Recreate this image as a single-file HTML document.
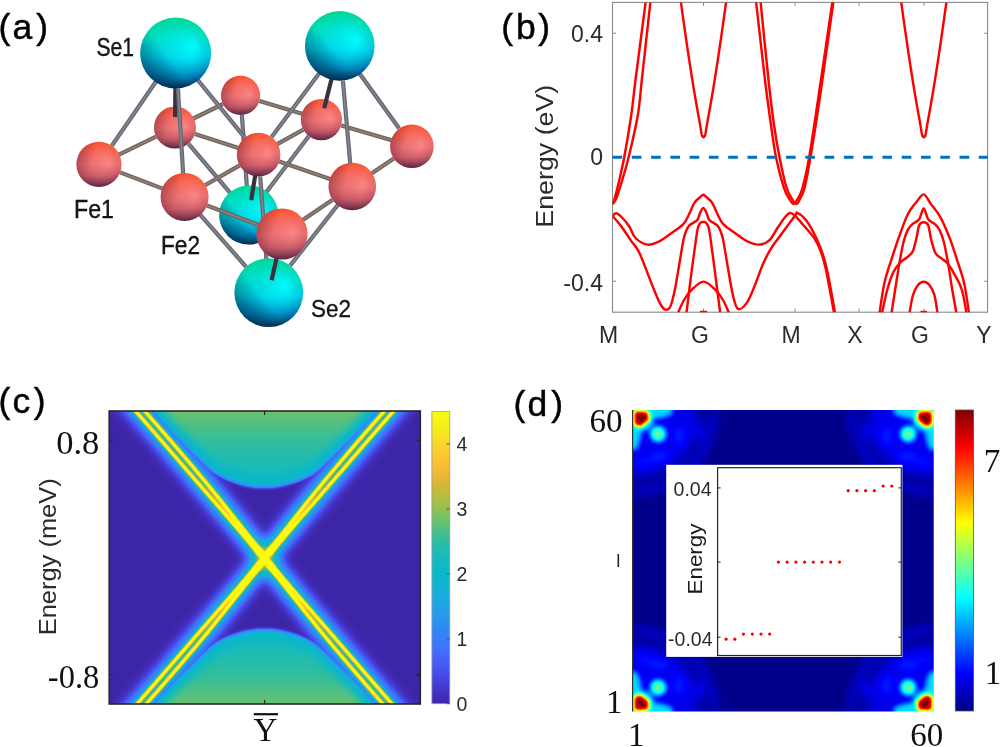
<!DOCTYPE html>
<html><head><meta charset="utf-8"><style>html,body{margin:0;padding:0;background:#fff;width:1000px;height:747px;overflow:hidden}svg{display:block}</style></head>
<body><svg width="1000" height="747" viewBox="0 0 1000 747">
<rect width="1000" height="747" fill="#fff"/>
<defs>
<linearGradient id="feV" x1="0" y1="0" x2="0" y2="1">
<stop offset="0" stop-color="#ff5228"/><stop offset="0.25" stop-color="#f56450"/><stop offset="0.5" stop-color="#e46c6c"/><stop offset="0.75" stop-color="#b8505e"/><stop offset="1" stop-color="#552244"/></linearGradient>
<radialGradient id="feH" cx="0.5" cy="0.5" r="0.5" fx="0.74" fy="0.46">
<stop offset="0" stop-color="#ff8a8a" stop-opacity="0.85"/><stop offset="0.55" stop-color="#f87c80" stop-opacity="0.35"/><stop offset="1" stop-color="#f87c80" stop-opacity="0"/></radialGradient>
<linearGradient id="feS" x1="0" y1="0" x2="1" y2="0.3">
<stop offset="0" stop-color="#701830" stop-opacity="0.55"/><stop offset="0.45" stop-color="#701830" stop-opacity="0"/></linearGradient>
<linearGradient id="seV" x1="0" y1="0" x2="0" y2="1">
<stop offset="0" stop-color="#00d890"/><stop offset="0.3" stop-color="#00dcbc"/><stop offset="0.55" stop-color="#00c4dc"/><stop offset="0.8" stop-color="#0074b0"/><stop offset="1" stop-color="#002a50"/></linearGradient>
<radialGradient id="seH" cx="0.5" cy="0.5" r="0.5" fx="0.76" fy="0.4">
<stop offset="0" stop-color="#00ffff" stop-opacity="0.95"/><stop offset="0.45" stop-color="#00f4ff" stop-opacity="0.45"/><stop offset="1" stop-color="#00e0ff" stop-opacity="0"/></radialGradient>
<linearGradient id="seS" x1="0" y1="0.9" x2="0.7" y2="0.35">
<stop offset="0" stop-color="#00304a" stop-opacity="0.7"/><stop offset="0.6" stop-color="#00304a" stop-opacity="0"/></linearGradient>
</defs><g id="pa">
<circle cx="240.6" cy="95.4" r="19.6" fill="url(#feV)"/>
<circle cx="240.6" cy="95.4" r="19.6" fill="url(#feH)"/>
<circle cx="240.6" cy="95.4" r="19.6" fill="url(#feS)"/>
<line x1="186.3" y1="122.0" x2="223.0" y2="104.0" stroke="#74645a" stroke-width="4.2"/>
<line x1="186.3" y1="122.0" x2="223.0" y2="104.0" stroke="#908a88" stroke-width="1.6" stroke-opacity="0.8"/>
<line x1="309.6" y1="116.1" x2="259.4" y2="101.0" stroke="#74645a" stroke-width="4.2"/>
<line x1="309.6" y1="116.1" x2="259.4" y2="101.0" stroke="#908a88" stroke-width="1.6" stroke-opacity="0.8"/>
<line x1="247.6" y1="197.3" x2="241.9" y2="115.0" stroke="#666670" stroke-width="4.2"/>
<line x1="247.6" y1="197.3" x2="241.9" y2="115.0" stroke="#8a8e98" stroke-width="1.6" stroke-opacity="0.8"/>
<circle cx="175.0" cy="127.5" r="21.0" fill="url(#feV)"/>
<circle cx="175.0" cy="127.5" r="21.0" fill="url(#feH)"/>
<circle cx="175.0" cy="127.5" r="21.0" fill="url(#feS)"/>
<circle cx="321.4" cy="119.6" r="20.6" fill="url(#feV)"/>
<circle cx="321.4" cy="119.6" r="20.6" fill="url(#feH)"/>
<circle cx="321.4" cy="119.6" r="20.6" fill="url(#feS)"/>
<line x1="237.3" y1="201.4" x2="188.5" y2="143.6" stroke="#666670" stroke-width="4.2"/>
<line x1="237.3" y1="201.4" x2="188.5" y2="143.6" stroke="#8a8e98" stroke-width="1.6" stroke-opacity="0.8"/>
<line x1="259.6" y1="200.9" x2="308.9" y2="136.0" stroke="#666670" stroke-width="4.2"/>
<line x1="259.6" y1="200.9" x2="308.9" y2="136.0" stroke="#8a8e98" stroke-width="1.6" stroke-opacity="0.8"/>
<circle cx="248.8" cy="215.0" r="29.6" fill="url(#seV)"/>
<circle cx="248.8" cy="215.0" r="29.6" fill="url(#seH)"/>
<circle cx="248.8" cy="215.0" r="29.6" fill="url(#seS)"/>
<line x1="111.2" y1="158.4" x2="156.1" y2="136.7" stroke="#74645a" stroke-width="4.2"/>
<line x1="111.2" y1="158.4" x2="156.1" y2="136.7" stroke="#908a88" stroke-width="1.6" stroke-opacity="0.8"/>
<line x1="246.2" y1="150.6" x2="195.0" y2="134.0" stroke="#74645a" stroke-width="4.2"/>
<line x1="246.2" y1="150.6" x2="195.0" y2="134.0" stroke="#908a88" stroke-width="1.6" stroke-opacity="0.8"/>
<line x1="399.4" y1="142.6" x2="341.2" y2="125.4" stroke="#74645a" stroke-width="4.2"/>
<line x1="399.4" y1="142.6" x2="341.2" y2="125.4" stroke="#908a88" stroke-width="1.6" stroke-opacity="0.8"/>
<line x1="270.0" y1="148.2" x2="303.4" y2="129.6" stroke="#74645a" stroke-width="4.2"/>
<line x1="270.0" y1="148.2" x2="303.4" y2="129.6" stroke="#908a88" stroke-width="1.6" stroke-opacity="0.8"/>
<line x1="175.5" y1="74.3" x2="175.1" y2="117.0" stroke="#3a3042" stroke-width="4.2" stroke-linecap="butt"/>
<line x1="334.7" y1="66.2" x2="324.2" y2="108.2" stroke="#3a3042" stroke-width="4.2" stroke-linecap="butt"/>
<line x1="256.5" y1="167.5" x2="251.2" y2="200.1" stroke="#3a3042" stroke-width="4.2" stroke-linecap="butt"/>
<circle cx="99.0" cy="164.3" r="22.6" fill="url(#feV)"/>
<circle cx="99.0" cy="164.3" r="22.6" fill="url(#feH)"/>
<circle cx="99.0" cy="164.3" r="22.6" fill="url(#feS)"/>
<circle cx="258.6" cy="154.6" r="21.8" fill="url(#feV)"/>
<circle cx="258.6" cy="154.6" r="21.8" fill="url(#feH)"/>
<circle cx="258.6" cy="154.6" r="21.8" fill="url(#feS)"/>
<circle cx="411.9" cy="146.3" r="21.8" fill="url(#feV)"/>
<circle cx="411.9" cy="146.3" r="21.8" fill="url(#feH)"/>
<circle cx="411.9" cy="146.3" r="21.8" fill="url(#feS)"/>
<line x1="163.6" y1="70.5" x2="111.8" y2="145.7" stroke="#666670" stroke-width="4.2"/>
<line x1="163.6" y1="70.5" x2="111.8" y2="145.7" stroke="#8a8e98" stroke-width="1.6" stroke-opacity="0.8"/>
<line x1="189.2" y1="69.5" x2="244.8" y2="137.7" stroke="#666670" stroke-width="4.2"/>
<line x1="189.2" y1="69.5" x2="244.8" y2="137.7" stroke="#8a8e98" stroke-width="1.6" stroke-opacity="0.8"/>
<line x1="327.3" y1="62.6" x2="271.6" y2="137.1" stroke="#666670" stroke-width="4.2"/>
<line x1="327.3" y1="62.6" x2="271.6" y2="137.1" stroke="#8a8e98" stroke-width="1.6" stroke-opacity="0.8"/>
<line x1="352.0" y1="62.9" x2="399.2" y2="128.6" stroke="#666670" stroke-width="4.2"/>
<line x1="352.0" y1="62.9" x2="399.2" y2="128.6" stroke="#8a8e98" stroke-width="1.6" stroke-opacity="0.8"/>
<circle cx="175.7" cy="53.0" r="35.5" fill="url(#seV)"/>
<circle cx="175.7" cy="53.0" r="35.5" fill="url(#seH)"/>
<circle cx="175.7" cy="53.0" r="35.5" fill="url(#seS)"/>
<circle cx="339.8" cy="45.9" r="34.8" fill="url(#seV)"/>
<circle cx="339.8" cy="45.9" r="34.8" fill="url(#seH)"/>
<circle cx="339.8" cy="45.9" r="34.8" fill="url(#seS)"/>
<line x1="267.3" y1="272.0" x2="260.2" y2="176.3" stroke="#666670" stroke-width="4.2"/>
<line x1="267.3" y1="272.0" x2="260.2" y2="176.3" stroke="#8a8e98" stroke-width="1.6" stroke-opacity="0.8"/>
<line x1="171.1" y1="191.9" x2="120.1" y2="172.4" stroke="#74645a" stroke-width="4.2"/>
<line x1="171.1" y1="191.9" x2="120.1" y2="172.4" stroke="#908a88" stroke-width="1.6" stroke-opacity="0.8"/>
<line x1="338.8" y1="181.9" x2="279.2" y2="161.6" stroke="#74645a" stroke-width="4.2"/>
<line x1="338.8" y1="181.9" x2="279.2" y2="161.6" stroke="#908a88" stroke-width="1.6" stroke-opacity="0.8"/>
<line x1="197.1" y1="189.8" x2="239.7" y2="165.4" stroke="#74645a" stroke-width="4.2"/>
<line x1="197.1" y1="189.8" x2="239.7" y2="165.4" stroke="#908a88" stroke-width="1.6" stroke-opacity="0.8"/>
<line x1="364.1" y1="178.5" x2="393.8" y2="158.5" stroke="#74645a" stroke-width="4.2"/>
<line x1="364.1" y1="178.5" x2="393.8" y2="158.5" stroke="#908a88" stroke-width="1.6" stroke-opacity="0.8"/>
<line x1="183.7" y1="182.6" x2="177.9" y2="88.4" stroke="#666670" stroke-width="4.2"/>
<line x1="183.7" y1="182.6" x2="177.9" y2="88.4" stroke="#8a8e98" stroke-width="1.6" stroke-opacity="0.8"/>
<line x1="351.0" y1="172.3" x2="342.9" y2="80.6" stroke="#666670" stroke-width="4.2"/>
<line x1="351.0" y1="172.3" x2="342.9" y2="80.6" stroke="#8a8e98" stroke-width="1.6" stroke-opacity="0.8"/>
<circle cx="268.8" cy="292.6" r="34.4" fill="url(#seV)"/>
<circle cx="268.8" cy="292.6" r="34.4" fill="url(#seH)"/>
<circle cx="268.8" cy="292.6" r="34.4" fill="url(#seS)"/>
<line x1="194.1" y1="207.8" x2="246.1" y2="266.8" stroke="#666670" stroke-width="4.2"/>
<line x1="194.1" y1="207.8" x2="246.1" y2="266.8" stroke="#8a8e98" stroke-width="1.6" stroke-opacity="0.8"/>
<line x1="343.5" y1="197.7" x2="290.1" y2="265.6" stroke="#666670" stroke-width="4.2"/>
<line x1="343.5" y1="197.7" x2="290.1" y2="265.6" stroke="#8a8e98" stroke-width="1.6" stroke-opacity="0.8"/>
<circle cx="184.6" cy="197.0" r="24.0" fill="url(#feV)"/>
<circle cx="184.6" cy="197.0" r="24.0" fill="url(#feH)"/>
<circle cx="184.6" cy="197.0" r="24.0" fill="url(#feS)"/>
<circle cx="352.3" cy="186.5" r="23.8" fill="url(#feV)"/>
<circle cx="352.3" cy="186.5" r="23.8" fill="url(#feH)"/>
<circle cx="352.3" cy="186.5" r="23.8" fill="url(#feS)"/>
<line x1="278.6" y1="249.0" x2="271.6" y2="280.2" stroke="#3a3042" stroke-width="4.2" stroke-linecap="butt"/>
<line x1="267.6" y1="228.5" x2="207.0" y2="205.5" stroke="#74645a" stroke-width="4.2"/>
<line x1="267.6" y1="228.5" x2="207.0" y2="205.5" stroke="#908a88" stroke-width="1.6" stroke-opacity="0.8"/>
<line x1="294.7" y1="225.4" x2="332.6" y2="199.8" stroke="#74645a" stroke-width="4.2"/>
<line x1="294.7" y1="225.4" x2="332.6" y2="199.8" stroke="#908a88" stroke-width="1.6" stroke-opacity="0.8"/>
<circle cx="282.0" cy="234.0" r="25.6" fill="url(#feV)"/>
<circle cx="282.0" cy="234.0" r="25.6" fill="url(#feH)"/>
<circle cx="282.0" cy="234.0" r="25.6" fill="url(#feS)"/>
</g>
<text x="-1.5" y="39.4" text-anchor="start" style="font-family:&quot;Liberation Sans&quot;,sans-serif;font-size:35.5px" fill="#000" stroke="#000" stroke-width="0.45">(</text><text x="12.5" y="39.4" text-anchor="start" style="font-family:&quot;Liberation Sans&quot;,sans-serif;font-size:35.5px" fill="#000" stroke="#000" stroke-width="0.45">a</text><text x="48.0" y="39.4" text-anchor="end" style="font-family:&quot;Liberation Sans&quot;,sans-serif;font-size:35.5px" fill="#000" stroke="#000" stroke-width="0.45">)</text>
<text x="96.5" y="55.5" text-anchor="start" style="font-family:&quot;Liberation Sans&quot;,sans-serif;font-size:25.0px" fill="#1a1a1a" textLength="37.5" lengthAdjust="spacingAndGlyphs" stroke="#000" stroke-width="0.35">Se1</text>
<text x="74.0" y="217.5" text-anchor="start" style="font-family:&quot;Liberation Sans&quot;,sans-serif;font-size:25.0px" fill="#1a1a1a" textLength="40.0" lengthAdjust="spacingAndGlyphs" stroke="#000" stroke-width="0.35">Fe1</text>
<text x="161.0" y="253.5" text-anchor="start" style="font-family:&quot;Liberation Sans&quot;,sans-serif;font-size:25.0px" fill="#1a1a1a" textLength="39.0" lengthAdjust="spacingAndGlyphs" stroke="#000" stroke-width="0.35">Fe2</text>
<text x="311.0" y="317.0" text-anchor="start" style="font-family:&quot;Liberation Sans&quot;,sans-serif;font-size:24.5px" fill="#1a1a1a" textLength="40.0" lengthAdjust="spacingAndGlyphs" stroke="#000" stroke-width="0.35">Se2</text>
<defs><clipPath id="cb"><rect x="612.5" y="2.4" width="375.1" height="309.8"/></clipPath></defs>
<text x="501.3" y="38.8" text-anchor="start" style="font-family:&quot;Liberation Sans&quot;,sans-serif;font-size:35.5px" fill="#000" stroke="#000" stroke-width="0.45">(</text><text x="516.0" y="38.8" text-anchor="start" style="font-family:&quot;Liberation Sans&quot;,sans-serif;font-size:35.5px" fill="#000" stroke="#000" stroke-width="0.45">b</text><text x="550.0" y="38.8" text-anchor="end" style="font-family:&quot;Liberation Sans&quot;,sans-serif;font-size:35.5px" fill="#000" stroke="#000" stroke-width="0.45">)</text>
<rect x="612.5" y="2.4" width="375.1" height="309.8" fill="none" stroke="#8a8a8a" stroke-width="1.1"/>
<line x1="612.5" y1="33.2" x2="616.0" y2="33.2" stroke="#8a8a8a" stroke-width="1"/>
<line x1="984.1" y1="33.2" x2="987.6" y2="33.2" stroke="#8a8a8a" stroke-width="1"/>
<line x1="612.5" y1="157.2" x2="616.0" y2="157.2" stroke="#8a8a8a" stroke-width="1"/>
<line x1="984.1" y1="157.2" x2="987.6" y2="157.2" stroke="#8a8a8a" stroke-width="1"/>
<line x1="612.5" y1="281.2" x2="616.0" y2="281.2" stroke="#8a8a8a" stroke-width="1"/>
<line x1="984.1" y1="281.2" x2="987.6" y2="281.2" stroke="#8a8a8a" stroke-width="1"/>
<line x1="703.5" y1="2.4" x2="703.5" y2="5.9" stroke="#8a8a8a" stroke-width="1"/>
<line x1="703.5" y1="308.7" x2="703.5" y2="312.2" stroke="#8a8a8a" stroke-width="1"/>
<line x1="795.0" y1="2.4" x2="795.0" y2="5.9" stroke="#8a8a8a" stroke-width="1"/>
<line x1="795.0" y1="308.7" x2="795.0" y2="312.2" stroke="#8a8a8a" stroke-width="1"/>
<line x1="859.0" y1="2.4" x2="859.0" y2="5.9" stroke="#8a8a8a" stroke-width="1"/>
<line x1="859.0" y1="308.7" x2="859.0" y2="312.2" stroke="#8a8a8a" stroke-width="1"/>
<line x1="924.0" y1="2.4" x2="924.0" y2="5.9" stroke="#8a8a8a" stroke-width="1"/>
<line x1="924.0" y1="308.7" x2="924.0" y2="312.2" stroke="#8a8a8a" stroke-width="1"/>
<text x="603.0" y="42.0" text-anchor="end" style="font-family:&quot;Liberation Sans&quot;,sans-serif;font-size:23.0px" fill="#2b2b2b" >0.4</text>
<text x="603.0" y="165.0" text-anchor="end" style="font-family:&quot;Liberation Sans&quot;,sans-serif;font-size:23.0px" fill="#2b2b2b" >0</text>
<text x="603.0" y="291.0" text-anchor="end" style="font-family:&quot;Liberation Sans&quot;,sans-serif;font-size:23.0px" fill="#2b2b2b" >-0.4</text>
<text x="608.5" y="342.5" text-anchor="middle" style="font-family:&quot;Liberation Sans&quot;,sans-serif;font-size:23.0px" fill="#2b2b2b" >M</text>
<text x="700.0" y="342.5" text-anchor="middle" style="font-family:&quot;Liberation Sans&quot;,sans-serif;font-size:23.0px" fill="#2b2b2b" >G</text>
<text x="791.0" y="342.5" text-anchor="middle" style="font-family:&quot;Liberation Sans&quot;,sans-serif;font-size:23.0px" fill="#2b2b2b" >M</text>
<text x="855.0" y="342.5" text-anchor="middle" style="font-family:&quot;Liberation Sans&quot;,sans-serif;font-size:23.0px" fill="#2b2b2b" >X</text>
<text x="920.0" y="342.5" text-anchor="middle" style="font-family:&quot;Liberation Sans&quot;,sans-serif;font-size:23.0px" fill="#2b2b2b" >G</text>
<text x="984.0" y="342.5" text-anchor="middle" style="font-family:&quot;Liberation Sans&quot;,sans-serif;font-size:23.0px" fill="#2b2b2b" >Y</text>
<text transform="translate(553,156.2) rotate(-90)" text-anchor="middle" textLength="143" lengthAdjust="spacingAndGlyphs" style="font-family:&quot;Liberation Sans&quot;,sans-serif;font-size:23px" fill="#2b2b2b">Energy (eV)</text>
<g clip-path="url(#cb)" fill="none" stroke="#ff0000" stroke-width="2.45" stroke-linejoin="round">
<path d="M612.50,204.00 C612.83,203.17 613.53,202.28 614.50,199.00 C615.47,195.72 616.67,191.30 618.30,184.30 C619.93,177.30 622.13,168.58 624.30,157.00 C626.47,145.42 629.43,127.63 631.30,114.80 C633.17,101.97 633.08,98.97 635.50,80.00 C637.92,61.03 644.08,14.17 645.80,1.00"/>
<path d="M612.50,204.00 C613.08,203.17 614.60,202.28 616.00,199.00 C617.40,195.72 618.78,191.30 620.90,184.30 C623.02,177.30 625.87,168.58 628.70,157.00 C631.53,145.42 635.72,127.63 637.90,114.80 C640.08,101.97 639.70,98.97 641.80,80.00 C643.90,61.03 649.05,14.17 650.50,1.00"/>
<path d="M680.71,0.70 L681.63,7.44 L682.54,14.01 L683.44,20.41 L684.32,26.63 L685.19,32.69 L686.04,38.58 L686.87,44.29 L687.69,49.84 L688.49,55.21 L689.28,60.42 L690.05,65.45 L690.80,70.31 L691.54,75.01 L692.25,79.53 L692.95,83.88 L693.64,88.06 L694.30,92.07 L694.95,95.91 L695.58,99.58 L696.18,103.07 L696.77,106.40 L697.33,109.56 L697.87,112.54 L698.39,115.36 L698.87,118.00 L699.32,120.48 L699.73,122.78 L700.10,124.91 L700.42,126.88 L700.70,128.67 L700.95,130.29 L701.18,131.74 L701.40,133.02 L701.62,134.13 L701.87,135.07 L702.15,135.83 L702.45,136.43 L702.79,136.86 L703.14,137.11 L703.50,137.20 L703.86,137.11 L704.21,136.86 L704.55,136.43 L704.85,135.83 L705.13,135.07 L705.38,134.13 L705.60,133.02 L705.82,131.74 L706.05,130.29 L706.30,128.67 L706.58,126.88 L706.90,124.91 L707.27,122.78 L707.68,120.48 L708.13,118.00 L708.61,115.36 L709.13,112.54 L709.67,109.56 L710.23,106.40 L710.82,103.07 L711.42,99.58 L712.05,95.91 L712.70,92.07 L713.36,88.06 L714.05,83.88 L714.75,79.53 L715.46,75.01 L716.20,70.31 L716.95,65.45 L717.72,60.42 L718.51,55.21 L719.31,49.84 L720.13,44.29 L720.96,38.58 L721.81,32.69 L722.68,26.63 L723.56,20.41 L724.46,14.01 L725.37,7.44 L726.29,0.70"/>
<path d="M901.01,0.70 L901.93,7.44 L902.84,14.01 L903.74,20.41 L904.62,26.63 L905.49,32.69 L906.34,38.58 L907.17,44.29 L907.99,49.84 L908.79,55.21 L909.58,60.42 L910.35,65.45 L911.10,70.31 L911.84,75.01 L912.55,79.53 L913.25,83.88 L913.94,88.06 L914.60,92.07 L915.25,95.91 L915.88,99.58 L916.48,103.07 L917.07,106.40 L917.63,109.56 L918.17,112.54 L918.69,115.36 L919.17,118.00 L919.62,120.48 L920.03,122.78 L920.40,124.91 L920.72,126.88 L921.00,128.67 L921.25,130.29 L921.48,131.74 L921.70,133.02 L921.92,134.13 L922.17,135.07 L922.45,135.83 L922.75,136.43 L923.09,136.86 L923.44,137.11 L923.80,137.20 L924.16,137.11 L924.51,136.86 L924.85,136.43 L925.15,135.83 L925.43,135.07 L925.68,134.13 L925.90,133.02 L926.12,131.74 L926.35,130.29 L926.60,128.67 L926.88,126.88 L927.20,124.91 L927.57,122.78 L927.98,120.48 L928.43,118.00 L928.91,115.36 L929.43,112.54 L929.97,109.56 L930.53,106.40 L931.12,103.07 L931.72,99.58 L932.35,95.91 L933.00,92.07 L933.66,88.06 L934.35,83.88 L935.05,79.53 L935.76,75.01 L936.50,70.31 L937.25,65.45 L938.02,60.42 L938.81,55.21 L939.61,49.84 L940.43,44.29 L941.26,38.58 L942.11,32.69 L942.98,26.63 L943.86,20.41 L944.76,14.01 L945.67,7.44 L946.59,0.70"/>
<path d="M756.00,1.00 C757.50,14.17 762.50,59.33 765.00,80.00 C767.50,100.67 769.17,112.17 771.00,125.00 C772.83,137.83 773.83,146.50 776.00,157.00 C778.17,167.50 781.67,180.83 784.00,188.00 C786.33,195.17 788.42,197.33 790.00,200.00 C791.58,202.67 792.33,204.00 793.50,204.00 C794.67,204.00 795.50,202.67 797.00,200.00 C798.50,197.33 800.47,195.17 802.50,188.00 C804.53,180.83 806.62,171.67 809.20,157.00 C811.78,142.33 814.12,126.00 818.00,100.00 C821.88,74.00 830.08,17.50 832.50,1.00"/>
<path d="M760.50,1.00 C761.83,14.17 766.25,59.33 768.50,80.00 C770.75,100.67 772.17,112.17 774.00,125.00 C775.83,137.83 777.50,146.83 779.50,157.00 C781.50,167.17 783.92,179.00 786.00,186.00 C788.08,193.00 790.25,196.00 792.00,199.00 C793.75,202.00 795.25,203.83 796.50,204.00 C797.75,204.17 798.17,202.67 799.50,200.00 C800.83,197.33 802.67,195.17 804.50,188.00 C806.33,180.83 808.00,171.67 810.50,157.00 C813.00,142.33 815.67,126.00 819.50,100.00 C823.33,74.00 831.17,17.50 833.50,1.00"/>
<path d="M612.50,216.00 C613.12,215.55 614.62,213.05 616.20,213.30 C617.78,213.55 619.87,215.38 622.00,217.50 C624.13,219.62 626.75,222.58 629.00,226.00 C631.25,229.42 632.40,234.90 635.50,238.00 C638.60,241.10 643.68,244.02 647.60,244.60 C651.52,245.18 655.27,243.23 659.00,241.50 C662.73,239.77 665.98,237.05 670.00,234.20 C674.02,231.35 679.98,227.60 683.10,224.40 C686.22,221.20 686.82,218.60 688.70,215.00 C690.58,211.40 692.52,205.77 694.40,202.80 C696.28,199.83 698.52,198.53 700.00,197.20 C701.48,195.87 702.20,194.80 703.30,194.80 C704.40,194.80 705.12,195.87 706.60,197.20 C708.08,198.53 710.32,199.83 712.20,202.80 C714.08,205.77 716.02,211.40 717.90,215.00 C719.78,218.60 720.38,221.20 723.50,224.40 C726.62,227.60 732.58,231.35 736.60,234.20 C740.62,237.05 743.87,239.77 747.60,241.50 C751.33,243.23 755.38,244.80 759.00,244.60 C762.62,244.40 766.17,243.15 769.30,240.30 C772.43,237.45 775.13,231.42 777.80,227.50 C780.47,223.58 783.25,219.22 785.30,216.80 C787.35,214.38 788.48,213.18 790.10,213.00 C791.72,212.82 792.77,213.65 795.00,215.70 C797.23,217.75 800.30,221.55 803.50,225.30 C806.70,229.05 811.28,233.75 814.20,238.20 C817.12,242.65 819.03,246.70 821.00,252.00 C822.97,257.30 823.83,259.92 826.00,270.00 C828.17,280.08 832.67,305.42 834.00,312.50"/>
<path d="M612.50,216.00 C613.92,217.67 617.83,221.77 621.00,226.00 C624.17,230.23 628.33,236.68 631.50,241.40 C634.67,246.12 635.33,244.13 640.00,254.30 C644.67,264.47 654.73,293.30 659.50,302.40 C664.27,311.50 666.22,310.20 668.60,308.90 C670.98,307.60 672.07,301.75 673.80,294.60 C675.53,287.45 677.30,275.52 679.00,266.00 C680.70,256.48 682.38,244.13 684.00,237.50 C685.62,230.87 686.50,229.10 688.70,226.20 C690.90,223.30 695.32,222.28 697.20,220.10 C699.08,217.92 698.98,215.12 700.00,213.10 C701.02,211.08 702.20,208.00 703.30,208.00 C704.40,208.00 705.58,211.08 706.60,213.10 C707.62,215.12 707.52,217.92 709.40,220.10 C711.28,222.28 715.70,223.30 717.90,226.20 C720.10,229.10 720.98,230.87 722.60,237.50 C724.22,244.13 725.90,256.48 727.60,266.00 C729.30,275.52 731.07,287.45 732.80,294.60 C734.53,301.75 735.62,307.60 738.00,308.90 C740.38,310.20 744.27,306.38 747.10,302.40 C749.93,298.42 752.35,291.40 755.00,285.00 C757.65,278.60 760.27,270.20 763.00,264.00 C765.73,257.80 768.57,252.47 771.40,247.80 C774.23,243.13 776.07,241.35 780.00,236.00 C783.93,230.65 792.07,219.53 795.00,215.70 C797.93,211.87 795.65,212.12 797.60,213.00 C799.55,213.88 803.57,216.80 806.70,221.00 C809.83,225.20 813.68,232.53 816.40,238.20 C819.12,243.87 821.15,249.37 823.00,255.00 C824.85,260.63 825.50,262.42 827.50,272.00 C829.50,281.58 833.75,305.75 835.00,312.50"/>
<path d="M686.50,313.00 C687.17,307.50 688.93,292.17 690.50,280.00 C692.07,267.83 694.63,248.80 695.90,240.00 C697.17,231.20 697.27,230.12 698.10,227.20 C698.93,224.28 700.03,223.37 700.90,222.50 C701.77,221.63 702.50,222.00 703.30,222.00 C704.10,222.00 704.83,221.63 705.70,222.50 C706.57,223.37 707.67,224.28 708.50,227.20 C709.33,230.12 709.45,231.20 710.70,240.00 C711.95,248.80 714.42,267.83 716.00,280.00 C717.58,292.17 719.50,307.50 720.20,313.00"/>
<path d="M678.00,313.00 C679.00,310.83 681.67,303.93 684.00,300.00 C686.33,296.07 688.75,292.47 692.00,289.40 C695.25,286.33 699.67,281.60 703.50,281.60 C707.33,281.60 711.75,286.33 715.00,289.40 C718.25,292.47 720.67,296.07 723.00,300.00 C725.33,303.93 728.00,310.83 729.00,313.00"/>
<path d="M879.50,313.00 C880.33,307.93 882.42,291.80 884.50,282.60 C886.58,273.40 889.53,265.55 892.00,257.80 C894.47,250.05 896.68,243.32 899.30,236.10 C901.92,228.88 904.90,220.12 907.70,214.50 C910.50,208.88 913.43,205.75 916.10,202.40 C918.77,199.05 921.28,194.20 923.70,194.40 C926.12,194.60 927.85,199.85 930.60,203.60 C933.35,207.35 936.98,211.07 940.20,216.90 C943.42,222.73 947.08,231.38 949.90,238.60 C952.72,245.82 954.75,252.87 957.10,260.20 C959.45,267.53 962.02,273.80 964.00,282.60 C965.98,291.40 968.17,307.93 969.00,313.00"/>
<path d="M891.50,313.00 C892.10,309.17 894.10,296.38 895.10,290.00 C896.10,283.62 896.70,279.67 897.50,274.70 C898.30,269.73 898.90,265.62 899.90,260.20 C900.90,254.78 902.20,247.22 903.50,242.20 C904.80,237.18 906.20,233.12 907.70,230.10 C909.20,227.08 910.58,225.90 912.50,224.10 C914.42,222.30 917.33,221.92 919.20,219.30 C921.07,216.68 922.20,208.40 923.70,208.40 C925.20,208.40 926.35,216.68 928.20,219.30 C930.05,221.92 932.90,222.30 934.80,224.10 C936.70,225.90 938.08,227.08 939.60,230.10 C941.12,233.12 942.58,237.18 943.90,242.20 C945.22,247.22 946.50,254.78 947.50,260.20 C948.50,265.62 949.10,269.73 949.90,274.70 C950.70,279.67 951.22,283.62 952.30,290.00 C953.38,296.38 955.72,309.17 956.40,313.00"/>
<path d="M882.00,313.00 C882.87,309.17 885.32,296.78 887.20,290.00 C889.08,283.22 891.18,276.85 893.30,272.30 C895.42,267.75 897.70,265.12 899.90,262.70 C902.10,260.28 904.40,259.62 906.50,257.80 C908.60,255.98 910.90,254.80 912.50,251.80 C914.10,248.80 914.98,244.22 916.10,239.80 C917.22,235.38 917.93,228.22 919.20,225.30 C920.47,222.38 922.20,222.30 923.70,222.30 C925.20,222.30 926.95,222.38 928.20,225.30 C929.45,228.22 930.00,235.18 931.20,239.80 C932.40,244.42 933.70,249.90 935.40,253.00 C937.10,256.10 939.28,256.58 941.40,258.40 C943.52,260.22 945.88,261.18 948.10,263.90 C950.32,266.62 952.40,270.35 954.70,274.70 C957.00,279.05 959.93,283.62 961.90,290.00 C963.87,296.38 965.73,309.17 966.50,313.00"/>
<path d="M909.50,313.00 C910.08,310.00 911.58,299.67 913.00,295.00 C914.42,290.33 916.22,287.22 918.00,285.00 C919.78,282.78 921.80,281.70 923.70,281.70 C925.60,281.70 927.62,282.78 929.40,285.00 C931.18,287.22 933.05,290.33 934.40,295.00 C935.75,299.67 936.98,310.00 937.50,313.00"/>
<line x1="700" y1="312" x2="707" y2="312" stroke-width="2.5"/>
<line x1="920.5" y1="312" x2="927" y2="312" stroke-width="2.5"/>
</g>
<line x1="612.5" y1="157.3" x2="987.6" y2="157.3" stroke="#0072bd" stroke-width="3" stroke-dasharray="9.64 9.64"/>
<defs><clipPath id="cc"><rect x="109.2" y="411.0" width="311.1" height="293.0"/></clipPath>
<filter id="cmapP" filterUnits="userSpaceOnUse" x="100" y="400" width="330" height="315" color-interpolation-filters="sRGB"><feComponentTransfer><feFuncR type="table" tableValues="0.2431 0.2706 0.2784 0.2549 0.1804 0.1569 0.0941 0.0314 0.0863 0.1882 0.4118 0.6471 0.8431 0.9882 0.9804 0.9608 0.9765"/><feFuncG type="table" tableValues="0.1490 0.2275 0.3333 0.4471 0.5294 0.6118 0.6824 0.7216 0.7294 0.7451 0.7608 0.7529 0.7137 0.7294 0.8118 0.9255 0.9843"/><feFuncB type="table" tableValues="0.6588 0.8275 0.9451 0.9961 0.9686 0.9216 0.8588 0.7843 0.7451 0.6196 0.4314 0.2745 0.2039 0.2275 0.1725 0.1098 0.0549"/></feComponentTransfer></filter>
<filter id="domeblur" filterUnits="userSpaceOnUse" x="60" y="360" width="420" height="400" color-interpolation-filters="sRGB"><feGaussianBlur stdDeviation="1.60"/></filter>
<filter id="dl0" filterUnits="userSpaceOnUse" x="60" y="360" width="420" height="400" color-interpolation-filters="sRGB"><feGaussianBlur stdDeviation="3.00" result="bb"/><feFlood flood-color="#000" result="fl"/><feComposite in="bb" in2="fl" operator="over"/></filter>
<filter id="dl1" filterUnits="userSpaceOnUse" x="60" y="360" width="420" height="400" color-interpolation-filters="sRGB"><feGaussianBlur stdDeviation="7.00" result="bb"/><feFlood flood-color="#000" result="fl"/><feComposite in="bb" in2="fl" operator="over"/></filter>
<filter id="lineprof" filterUnits="userSpaceOnUse" x="60" y="360" width="420" height="400" color-interpolation-filters="sRGB"><feGaussianBlur in="SourceGraphic" stdDeviation="1.00" result="a"/><feGaussianBlur in="SourceGraphic" stdDeviation="8.00" result="b"/><feGaussianBlur in="SourceGraphic" stdDeviation="20.00" result="c"/><feComposite in="a" in2="b" operator="arithmetic" k1="0" k2="0.750" k3="1.400" k4="0" result="ab"/><feComposite in="ab" in2="c" operator="arithmetic" k1="0" k2="1" k3="0.000" k4="0" result="abc"/><feFlood flood-color="#000" result="fl"/><feComposite in="abc" in2="fl" operator="over"/></filter>
<radialGradient id="domeg" gradientUnits="userSpaceOnUse" cx="264.6" cy="558.4" r="220">
<stop offset="0.000" stop-color="rgb(102,102,102)"/>
<stop offset="0.318" stop-color="rgb(102,102,102)"/>
<stop offset="0.455" stop-color="rgb(117,117,117)"/>
<stop offset="0.682" stop-color="rgb(140,140,140)"/>
<stop offset="1.000" stop-color="rgb(158,158,158)"/>
</radialGradient></defs>
<text x="-1.5" y="413.3" text-anchor="start" style="font-family:&quot;Liberation Sans&quot;,sans-serif;font-size:35.5px" fill="#000" stroke="#000" stroke-width="0.45">(</text><text x="12.6" y="413.3" text-anchor="start" style="font-family:&quot;Liberation Sans&quot;,sans-serif;font-size:35.5px" fill="#000" stroke="#000" stroke-width="0.45">c</text><text x="45.5" y="413.3" text-anchor="end" style="font-family:&quot;Liberation Sans&quot;,sans-serif;font-size:35.5px" fill="#000" stroke="#000" stroke-width="0.45">)</text>
<g clip-path="url(#cc)"><g filter="url(#cmapP)">
<rect x="100" y="400" width="330" height="315" fill="#000"/>
<g filter="url(#domeblur)">
<path d="M69.2,310.4 L72.5,314.3 L75.7,318.2 L79.0,322.2 L82.2,326.1 L85.5,330.0 L88.8,333.9 L92.0,337.8 L95.3,341.7 L98.5,345.6 L101.8,349.5 L105.1,353.4 L108.3,357.4 L111.6,361.3 L114.8,365.2 L118.1,369.1 L121.3,373.0 L124.6,376.9 L127.9,380.9 L131.1,384.8 L134.4,388.7 L137.6,392.6 L140.9,396.5 L144.2,400.4 L147.4,404.2 L150.7,408.1 L153.9,411.9 L157.2,415.8 L160.5,419.6 L163.7,423.3 L167.0,427.0 L170.2,430.6 L173.5,434.0 L176.8,437.2 L180.0,440.4 L183.3,443.6 L186.5,446.8 L189.8,450.1 L193.0,453.4 L196.3,456.7 L199.6,459.8 L202.8,463.0 L206.1,466.2 L209.3,469.2 L212.6,471.9 L215.9,474.2 L219.1,476.1 L222.4,477.8 L225.6,479.3 L228.9,480.6 L232.2,481.8 L235.4,482.9 L238.7,483.9 L241.9,484.9 L245.2,485.7 L248.5,486.4 L251.7,486.9 L255.0,487.4 L258.2,487.7 L261.5,487.8 L264.8,487.9 L268.0,487.8 L271.3,487.7 L274.5,487.3 L277.8,486.9 L281.0,486.3 L284.3,485.6 L287.6,484.8 L290.8,483.8 L294.1,482.8 L297.3,481.7 L300.6,480.5 L303.9,479.1 L307.1,477.6 L310.4,475.9 L313.6,474.0 L316.9,471.7 L320.2,468.9 L323.4,465.9 L326.7,462.7 L329.9,459.5 L333.2,456.4 L336.5,453.1 L339.7,449.8 L343.0,446.5 L346.2,443.3 L349.5,440.1 L352.7,437.0 L356.0,433.7 L359.3,430.3 L362.5,426.7 L365.8,423.0 L369.0,419.2 L372.3,415.4 L375.6,411.6 L378.8,407.7 L382.1,403.9 L385.3,400.0 L388.6,396.2 L391.9,392.3 L395.1,388.4 L398.4,384.4 L401.6,380.5 L404.9,376.6 L408.2,372.7 L411.4,368.7 L414.7,364.8 L417.9,360.9 L421.2,357.0 L424.4,353.1 L427.7,349.2 L431.0,345.3 L434.2,341.3 L437.5,337.4 L440.7,333.5 L444.0,329.6 L447.3,325.7 L450.5,321.8 L453.8,317.9 L457.0,314.0 L460.3,310.1 L460.3,158.4 L69.2,158.4 Z" fill="rgb(84,84,84)"/>
<path d="M69.2,806.4 L72.5,802.5 L75.7,798.6 L79.0,794.6 L82.2,790.7 L85.5,786.8 L88.8,782.9 L92.0,779.0 L95.3,775.1 L98.5,771.2 L101.8,767.3 L105.1,763.4 L108.3,759.4 L111.6,755.5 L114.8,751.6 L118.1,747.7 L121.3,743.8 L124.6,739.9 L127.9,735.9 L131.1,732.0 L134.4,728.1 L137.6,724.2 L140.9,720.3 L144.2,716.4 L147.4,712.6 L150.7,708.7 L153.9,704.9 L157.2,701.0 L160.5,697.2 L163.7,693.5 L167.0,689.8 L170.2,686.2 L173.5,682.8 L176.8,679.6 L180.0,676.4 L183.3,673.2 L186.5,670.0 L189.8,666.7 L193.0,663.4 L196.3,660.1 L199.6,657.0 L202.8,653.8 L206.1,650.6 L209.3,647.6 L212.6,644.9 L215.9,642.6 L219.1,640.7 L222.4,639.0 L225.6,637.5 L228.9,636.2 L232.2,635.0 L235.4,633.9 L238.7,632.9 L241.9,631.9 L245.2,631.1 L248.5,630.4 L251.7,629.9 L255.0,629.4 L258.2,629.1 L261.5,629.0 L264.8,628.9 L268.0,629.0 L271.3,629.1 L274.5,629.5 L277.8,629.9 L281.0,630.5 L284.3,631.2 L287.6,632.0 L290.8,633.0 L294.1,634.0 L297.3,635.1 L300.6,636.3 L303.9,637.7 L307.1,639.2 L310.4,640.9 L313.6,642.8 L316.9,645.1 L320.2,647.9 L323.4,650.9 L326.7,654.1 L329.9,657.3 L333.2,660.4 L336.5,663.7 L339.7,667.0 L343.0,670.3 L346.2,673.5 L349.5,676.7 L352.7,679.8 L356.0,683.1 L359.3,686.5 L362.5,690.1 L365.8,693.8 L369.0,697.6 L372.3,701.4 L375.6,705.2 L378.8,709.1 L382.1,712.9 L385.3,716.8 L388.6,720.6 L391.9,724.5 L395.1,728.4 L398.4,732.4 L401.6,736.3 L404.9,740.2 L408.2,744.1 L411.4,748.1 L414.7,752.0 L417.9,755.9 L421.2,759.8 L424.4,763.7 L427.7,767.6 L431.0,771.5 L434.2,775.5 L437.5,779.4 L440.7,783.3 L444.0,787.2 L447.3,791.1 L450.5,795.0 L453.8,798.9 L457.0,802.8 L460.3,806.7 L460.3,958.4 L69.2,958.4 Z" fill="rgb(84,84,84)"/>
</g>
<clipPath id="domeclip"><path d="M69.2,310.4 L72.5,314.3 L75.7,318.2 L79.0,322.2 L82.2,326.1 L85.5,330.0 L88.8,333.9 L92.0,337.8 L95.3,341.7 L98.5,345.6 L101.8,349.5 L105.1,353.4 L108.3,357.4 L111.6,361.3 L114.8,365.2 L118.1,369.1 L121.3,373.0 L124.6,376.9 L127.9,380.9 L131.1,384.8 L134.4,388.7 L137.6,392.6 L140.9,396.5 L144.2,400.4 L147.4,404.2 L150.7,408.1 L153.9,411.9 L157.2,415.8 L160.5,419.6 L163.7,423.3 L167.0,427.0 L170.2,430.6 L173.5,434.0 L176.8,437.2 L180.0,440.4 L183.3,443.6 L186.5,446.8 L189.8,450.1 L193.0,453.4 L196.3,456.7 L199.6,459.8 L202.8,463.0 L206.1,466.2 L209.3,469.2 L212.6,471.9 L215.9,474.2 L219.1,476.1 L222.4,477.8 L225.6,479.3 L228.9,480.6 L232.2,481.8 L235.4,482.9 L238.7,483.9 L241.9,484.9 L245.2,485.7 L248.5,486.4 L251.7,486.9 L255.0,487.4 L258.2,487.7 L261.5,487.8 L264.8,487.9 L268.0,487.8 L271.3,487.7 L274.5,487.3 L277.8,486.9 L281.0,486.3 L284.3,485.6 L287.6,484.8 L290.8,483.8 L294.1,482.8 L297.3,481.7 L300.6,480.5 L303.9,479.1 L307.1,477.6 L310.4,475.9 L313.6,474.0 L316.9,471.7 L320.2,468.9 L323.4,465.9 L326.7,462.7 L329.9,459.5 L333.2,456.4 L336.5,453.1 L339.7,449.8 L343.0,446.5 L346.2,443.3 L349.5,440.1 L352.7,437.0 L356.0,433.7 L359.3,430.3 L362.5,426.7 L365.8,423.0 L369.0,419.2 L372.3,415.4 L375.6,411.6 L378.8,407.7 L382.1,403.9 L385.3,400.0 L388.6,396.2 L391.9,392.3 L395.1,388.4 L398.4,384.4 L401.6,380.5 L404.9,376.6 L408.2,372.7 L411.4,368.7 L414.7,364.8 L417.9,360.9 L421.2,357.0 L424.4,353.1 L427.7,349.2 L431.0,345.3 L434.2,341.3 L437.5,337.4 L440.7,333.5 L444.0,329.6 L447.3,325.7 L450.5,321.8 L453.8,317.9 L457.0,314.0 L460.3,310.1 L460.3,158.4 L69.2,158.4 Z"/><path d="M69.2,806.4 L72.5,802.5 L75.7,798.6 L79.0,794.6 L82.2,790.7 L85.5,786.8 L88.8,782.9 L92.0,779.0 L95.3,775.1 L98.5,771.2 L101.8,767.3 L105.1,763.4 L108.3,759.4 L111.6,755.5 L114.8,751.6 L118.1,747.7 L121.3,743.8 L124.6,739.9 L127.9,735.9 L131.1,732.0 L134.4,728.1 L137.6,724.2 L140.9,720.3 L144.2,716.4 L147.4,712.6 L150.7,708.7 L153.9,704.9 L157.2,701.0 L160.5,697.2 L163.7,693.5 L167.0,689.8 L170.2,686.2 L173.5,682.8 L176.8,679.6 L180.0,676.4 L183.3,673.2 L186.5,670.0 L189.8,666.7 L193.0,663.4 L196.3,660.1 L199.6,657.0 L202.8,653.8 L206.1,650.6 L209.3,647.6 L212.6,644.9 L215.9,642.6 L219.1,640.7 L222.4,639.0 L225.6,637.5 L228.9,636.2 L232.2,635.0 L235.4,633.9 L238.7,632.9 L241.9,631.9 L245.2,631.1 L248.5,630.4 L251.7,629.9 L255.0,629.4 L258.2,629.1 L261.5,629.0 L264.8,628.9 L268.0,629.0 L271.3,629.1 L274.5,629.5 L277.8,629.9 L281.0,630.5 L284.3,631.2 L287.6,632.0 L290.8,633.0 L294.1,634.0 L297.3,635.1 L300.6,636.3 L303.9,637.7 L307.1,639.2 L310.4,640.9 L313.6,642.8 L316.9,645.1 L320.2,647.9 L323.4,650.9 L326.7,654.1 L329.9,657.3 L333.2,660.4 L336.5,663.7 L339.7,667.0 L343.0,670.3 L346.2,673.5 L349.5,676.7 L352.7,679.8 L356.0,683.1 L359.3,686.5 L362.5,690.1 L365.8,693.8 L369.0,697.6 L372.3,701.4 L375.6,705.2 L378.8,709.1 L382.1,712.9 L385.3,716.8 L388.6,720.6 L391.9,724.5 L395.1,728.4 L398.4,732.4 L401.6,736.3 L404.9,740.2 L408.2,744.1 L411.4,748.1 L414.7,752.0 L417.9,755.9 L421.2,759.8 L424.4,763.7 L427.7,767.6 L431.0,771.5 L434.2,775.5 L437.5,779.4 L440.7,783.3 L444.0,787.2 L447.3,791.1 L450.5,795.0 L453.8,798.9 L457.0,802.8 L460.3,806.7 L460.3,958.4 L69.2,958.4 Z"/></clipPath>
<defs><linearGradient id="dgu" gradientUnits="userSpaceOnUse" x1="0" y1="486.4" x2="0" y2="408.4"><stop offset="0" stop-color="rgb(120,120,120)"/><stop offset="1" stop-color="rgb(161,161,161)"/></linearGradient>
<linearGradient id="dgl" gradientUnits="userSpaceOnUse" x1="0" y1="630.4" x2="0" y2="708.4"><stop offset="0" stop-color="rgb(120,120,120)"/><stop offset="1" stop-color="rgb(161,161,161)"/></linearGradient></defs>
<g clip-path="url(#domeclip)" style="mix-blend-mode:lighten"><g filter="url(#dl0)">
<path d="M69.2,310.4 L72.5,314.3 L75.7,318.2 L79.0,322.2 L82.2,326.1 L85.5,330.0 L88.8,333.9 L92.0,337.8 L95.3,341.7 L98.5,345.6 L101.8,349.5 L105.1,353.4 L108.3,357.4 L111.6,361.3 L114.8,365.2 L118.1,369.1 L121.3,373.0 L124.6,376.9 L127.9,380.9 L131.1,384.8 L134.4,388.7 L137.6,392.6 L140.9,396.5 L144.2,400.4 L147.4,404.2 L150.7,408.1 L153.9,411.9 L157.2,415.8 L160.5,419.6 L163.7,423.3 L167.0,427.0 L170.2,430.6 L173.5,434.0 L176.8,437.2 L180.0,440.4 L183.3,443.6 L186.5,446.8 L189.8,450.1 L193.0,453.4 L196.3,456.7 L199.6,459.8 L202.8,463.0 L206.1,466.2 L209.3,469.2 L212.6,471.9 L215.9,474.2 L219.1,476.1 L222.4,477.8 L225.6,479.3 L228.9,480.6 L232.2,481.8 L235.4,482.9 L238.7,483.9 L241.9,484.9 L245.2,485.7 L248.5,486.4 L251.7,486.9 L255.0,487.4 L258.2,487.7 L261.5,487.8 L264.8,487.9 L268.0,487.8 L271.3,487.7 L274.5,487.3 L277.8,486.9 L281.0,486.3 L284.3,485.6 L287.6,484.8 L290.8,483.8 L294.1,482.8 L297.3,481.7 L300.6,480.5 L303.9,479.1 L307.1,477.6 L310.4,475.9 L313.6,474.0 L316.9,471.7 L320.2,468.9 L323.4,465.9 L326.7,462.7 L329.9,459.5 L333.2,456.4 L336.5,453.1 L339.7,449.8 L343.0,446.5 L346.2,443.3 L349.5,440.1 L352.7,437.0 L356.0,433.7 L359.3,430.3 L362.5,426.7 L365.8,423.0 L369.0,419.2 L372.3,415.4 L375.6,411.6 L378.8,407.7 L382.1,403.9 L385.3,400.0 L388.6,396.2 L391.9,392.3 L395.1,388.4 L398.4,384.4 L401.6,380.5 L404.9,376.6 L408.2,372.7 L411.4,368.7 L414.7,364.8 L417.9,360.9 L421.2,357.0 L424.4,353.1 L427.7,349.2 L431.0,345.3 L434.2,341.3 L437.5,337.4 L440.7,333.5 L444.0,329.6 L447.3,325.7 L450.5,321.8 L453.8,317.9 L457.0,314.0 L460.3,310.1 L460.3,158.4 L69.2,158.4 Z" fill="rgb(117,117,117)"/>
<path d="M69.2,806.4 L72.5,802.5 L75.7,798.6 L79.0,794.6 L82.2,790.7 L85.5,786.8 L88.8,782.9 L92.0,779.0 L95.3,775.1 L98.5,771.2 L101.8,767.3 L105.1,763.4 L108.3,759.4 L111.6,755.5 L114.8,751.6 L118.1,747.7 L121.3,743.8 L124.6,739.9 L127.9,735.9 L131.1,732.0 L134.4,728.1 L137.6,724.2 L140.9,720.3 L144.2,716.4 L147.4,712.6 L150.7,708.7 L153.9,704.9 L157.2,701.0 L160.5,697.2 L163.7,693.5 L167.0,689.8 L170.2,686.2 L173.5,682.8 L176.8,679.6 L180.0,676.4 L183.3,673.2 L186.5,670.0 L189.8,666.7 L193.0,663.4 L196.3,660.1 L199.6,657.0 L202.8,653.8 L206.1,650.6 L209.3,647.6 L212.6,644.9 L215.9,642.6 L219.1,640.7 L222.4,639.0 L225.6,637.5 L228.9,636.2 L232.2,635.0 L235.4,633.9 L238.7,632.9 L241.9,631.9 L245.2,631.1 L248.5,630.4 L251.7,629.9 L255.0,629.4 L258.2,629.1 L261.5,629.0 L264.8,628.9 L268.0,629.0 L271.3,629.1 L274.5,629.5 L277.8,629.9 L281.0,630.5 L284.3,631.2 L287.6,632.0 L290.8,633.0 L294.1,634.0 L297.3,635.1 L300.6,636.3 L303.9,637.7 L307.1,639.2 L310.4,640.9 L313.6,642.8 L316.9,645.1 L320.2,647.9 L323.4,650.9 L326.7,654.1 L329.9,657.3 L333.2,660.4 L336.5,663.7 L339.7,667.0 L343.0,670.3 L346.2,673.5 L349.5,676.7 L352.7,679.8 L356.0,683.1 L359.3,686.5 L362.5,690.1 L365.8,693.8 L369.0,697.6 L372.3,701.4 L375.6,705.2 L378.8,709.1 L382.1,712.9 L385.3,716.8 L388.6,720.6 L391.9,724.5 L395.1,728.4 L398.4,732.4 L401.6,736.3 L404.9,740.2 L408.2,744.1 L411.4,748.1 L414.7,752.0 L417.9,755.9 L421.2,759.8 L424.4,763.7 L427.7,767.6 L431.0,771.5 L434.2,775.5 L437.5,779.4 L440.7,783.3 L444.0,787.2 L447.3,791.1 L450.5,795.0 L453.8,798.9 L457.0,802.8 L460.3,806.7 L460.3,958.4 L69.2,958.4 Z" fill="rgb(117,117,117)"/>
</g></g>
<g clip-path="url(#domeclip)" style="mix-blend-mode:lighten"><g filter="url(#dl1)">
<path d="M69.2,310.4 L72.5,314.3 L75.7,318.2 L79.0,322.2 L82.2,326.1 L85.5,330.0 L88.8,333.9 L92.0,337.8 L95.3,341.7 L98.5,345.6 L101.8,349.5 L105.1,353.4 L108.3,357.4 L111.6,361.3 L114.8,365.2 L118.1,369.1 L121.3,373.0 L124.6,376.9 L127.9,380.9 L131.1,384.8 L134.4,388.7 L137.6,392.6 L140.9,396.5 L144.2,400.4 L147.4,404.2 L150.7,408.1 L153.9,411.9 L157.2,415.8 L160.5,419.6 L163.7,423.3 L167.0,427.0 L170.2,430.6 L173.5,434.0 L176.8,437.2 L180.0,440.4 L183.3,443.6 L186.5,446.8 L189.8,450.1 L193.0,453.4 L196.3,456.7 L199.6,459.8 L202.8,463.0 L206.1,466.2 L209.3,469.2 L212.6,471.9 L215.9,474.2 L219.1,476.1 L222.4,477.8 L225.6,479.3 L228.9,480.6 L232.2,481.8 L235.4,482.9 L238.7,483.9 L241.9,484.9 L245.2,485.7 L248.5,486.4 L251.7,486.9 L255.0,487.4 L258.2,487.7 L261.5,487.8 L264.8,487.9 L268.0,487.8 L271.3,487.7 L274.5,487.3 L277.8,486.9 L281.0,486.3 L284.3,485.6 L287.6,484.8 L290.8,483.8 L294.1,482.8 L297.3,481.7 L300.6,480.5 L303.9,479.1 L307.1,477.6 L310.4,475.9 L313.6,474.0 L316.9,471.7 L320.2,468.9 L323.4,465.9 L326.7,462.7 L329.9,459.5 L333.2,456.4 L336.5,453.1 L339.7,449.8 L343.0,446.5 L346.2,443.3 L349.5,440.1 L352.7,437.0 L356.0,433.7 L359.3,430.3 L362.5,426.7 L365.8,423.0 L369.0,419.2 L372.3,415.4 L375.6,411.6 L378.8,407.7 L382.1,403.9 L385.3,400.0 L388.6,396.2 L391.9,392.3 L395.1,388.4 L398.4,384.4 L401.6,380.5 L404.9,376.6 L408.2,372.7 L411.4,368.7 L414.7,364.8 L417.9,360.9 L421.2,357.0 L424.4,353.1 L427.7,349.2 L431.0,345.3 L434.2,341.3 L437.5,337.4 L440.7,333.5 L444.0,329.6 L447.3,325.7 L450.5,321.8 L453.8,317.9 L457.0,314.0 L460.3,310.1 L460.3,158.4 L69.2,158.4 Z" fill="url(#dgu)"/>
<path d="M69.2,806.4 L72.5,802.5 L75.7,798.6 L79.0,794.6 L82.2,790.7 L85.5,786.8 L88.8,782.9 L92.0,779.0 L95.3,775.1 L98.5,771.2 L101.8,767.3 L105.1,763.4 L108.3,759.4 L111.6,755.5 L114.8,751.6 L118.1,747.7 L121.3,743.8 L124.6,739.9 L127.9,735.9 L131.1,732.0 L134.4,728.1 L137.6,724.2 L140.9,720.3 L144.2,716.4 L147.4,712.6 L150.7,708.7 L153.9,704.9 L157.2,701.0 L160.5,697.2 L163.7,693.5 L167.0,689.8 L170.2,686.2 L173.5,682.8 L176.8,679.6 L180.0,676.4 L183.3,673.2 L186.5,670.0 L189.8,666.7 L193.0,663.4 L196.3,660.1 L199.6,657.0 L202.8,653.8 L206.1,650.6 L209.3,647.6 L212.6,644.9 L215.9,642.6 L219.1,640.7 L222.4,639.0 L225.6,637.5 L228.9,636.2 L232.2,635.0 L235.4,633.9 L238.7,632.9 L241.9,631.9 L245.2,631.1 L248.5,630.4 L251.7,629.9 L255.0,629.4 L258.2,629.1 L261.5,629.0 L264.8,628.9 L268.0,629.0 L271.3,629.1 L274.5,629.5 L277.8,629.9 L281.0,630.5 L284.3,631.2 L287.6,632.0 L290.8,633.0 L294.1,634.0 L297.3,635.1 L300.6,636.3 L303.9,637.7 L307.1,639.2 L310.4,640.9 L313.6,642.8 L316.9,645.1 L320.2,647.9 L323.4,650.9 L326.7,654.1 L329.9,657.3 L333.2,660.4 L336.5,663.7 L339.7,667.0 L343.0,670.3 L346.2,673.5 L349.5,676.7 L352.7,679.8 L356.0,683.1 L359.3,686.5 L362.5,690.1 L365.8,693.8 L369.0,697.6 L372.3,701.4 L375.6,705.2 L378.8,709.1 L382.1,712.9 L385.3,716.8 L388.6,720.6 L391.9,724.5 L395.1,728.4 L398.4,732.4 L401.6,736.3 L404.9,740.2 L408.2,744.1 L411.4,748.1 L414.7,752.0 L417.9,755.9 L421.2,759.8 L424.4,763.7 L427.7,767.6 L431.0,771.5 L434.2,775.5 L437.5,779.4 L440.7,783.3 L444.0,787.2 L447.3,791.1 L450.5,795.0 L453.8,798.9 L457.0,802.8 L460.3,806.7 L460.3,958.4 L69.2,958.4 Z" fill="url(#dgl)"/>
</g></g>
<g filter="url(#lineprof)" style="mix-blend-mode:lighten">
<path d="M115.36,388.40 L117.88,391.23 L120.39,394.07 L122.91,396.90 L125.41,399.73 L127.92,402.57 L130.42,405.40 L132.92,408.23 L135.41,411.07 L137.90,413.90 L140.38,416.73 L142.87,419.57 L145.34,422.40 L147.82,425.23 L150.29,428.07 L152.76,430.90 L155.22,433.73 L157.68,436.57 L160.14,439.40 L162.60,442.23 L165.05,445.07 L167.50,447.90 L169.95,450.73 L172.40,453.57 L174.84,456.40 L177.29,459.23 L179.73,462.07 L182.18,464.90 L184.63,467.73 L187.08,470.57 L189.53,473.40 L191.99,476.23 L194.45,479.07 L196.91,481.90 L199.38,484.73 L201.85,487.57 L204.32,490.40 L206.80,493.23 L209.28,496.07 L211.76,498.90 L214.25,501.73 L216.73,504.57 L219.21,507.40 L221.69,510.23 L224.17,513.07 L226.64,515.90 L229.10,518.73 L231.56,521.57 L234.00,524.40 L236.43,527.23 L238.86,530.07 L241.26,532.90 L243.66,535.73 L246.04,538.57 L248.41,541.40 L250.76,544.23 L253.12,547.07 L255.49,549.90 L258.00,552.73 L260.93,555.57 L264.60,558.40 L268.27,561.23 L271.20,564.07 L273.71,566.90 L276.08,569.73 L278.44,572.57 L280.79,575.40 L283.16,578.23 L285.54,581.07 L287.94,583.90 L290.34,586.73 L292.77,589.57 L295.20,592.40 L297.64,595.23 L300.10,598.07 L302.56,600.90 L305.03,603.73 L307.51,606.57 L309.99,609.40 L312.47,612.23 L314.95,615.07 L317.44,617.90 L319.92,620.73 L322.40,623.57 L324.88,626.40 L327.35,629.23 L329.82,632.07 L332.29,634.90 L334.75,637.73 L337.21,640.57 L339.67,643.40 L342.12,646.23 L344.57,649.07 L347.02,651.90 L349.47,654.73 L351.91,657.57 L354.36,660.40 L356.80,663.23 L359.25,666.07 L361.70,668.90 L364.15,671.73 L366.60,674.57 L369.06,677.40 L371.52,680.23 L373.98,683.07 L376.44,685.90 L378.91,688.73 L381.38,691.57 L383.86,694.40 L386.33,697.23 L388.82,700.07 L391.30,702.90 L393.79,705.73 L396.28,708.57 L398.78,711.40 L401.28,714.23 L403.79,717.07 L406.29,719.90 L408.81,722.73 L411.32,725.57 L413.84,728.40" fill="none" stroke="#fff" stroke-width="3.4"/>
<path d="M413.84,388.40 L411.32,391.23 L408.81,394.07 L406.29,396.90 L403.79,399.73 L401.28,402.57 L398.78,405.40 L396.28,408.23 L393.79,411.07 L391.30,413.90 L388.82,416.73 L386.33,419.57 L383.86,422.40 L381.38,425.23 L378.91,428.07 L376.44,430.90 L373.98,433.73 L371.52,436.57 L369.06,439.40 L366.60,442.23 L364.15,445.07 L361.70,447.90 L359.25,450.73 L356.80,453.57 L354.36,456.40 L351.91,459.23 L349.47,462.07 L347.02,464.90 L344.57,467.73 L342.12,470.57 L339.67,473.40 L337.21,476.23 L334.75,479.07 L332.29,481.90 L329.82,484.73 L327.35,487.57 L324.88,490.40 L322.40,493.23 L319.92,496.07 L317.44,498.90 L314.95,501.73 L312.47,504.57 L309.99,507.40 L307.51,510.23 L305.03,513.07 L302.56,515.90 L300.10,518.73 L297.64,521.57 L295.20,524.40 L292.77,527.23 L290.34,530.07 L287.94,532.90 L285.54,535.73 L283.16,538.57 L280.79,541.40 L278.44,544.23 L276.08,547.07 L273.71,549.90 L271.20,552.73 L268.27,555.57 L264.60,558.40 L260.93,561.23 L258.00,564.07 L255.49,566.90 L253.12,569.73 L250.76,572.57 L248.41,575.40 L246.04,578.23 L243.66,581.07 L241.26,583.90 L238.86,586.73 L236.43,589.57 L234.00,592.40 L231.56,595.23 L229.10,598.07 L226.64,600.90 L224.17,603.73 L221.69,606.57 L219.21,609.40 L216.73,612.23 L214.25,615.07 L211.76,617.90 L209.28,620.73 L206.80,623.57 L204.32,626.40 L201.85,629.23 L199.38,632.07 L196.91,634.90 L194.45,637.73 L191.99,640.57 L189.53,643.40 L187.08,646.23 L184.63,649.07 L182.18,651.90 L179.73,654.73 L177.29,657.57 L174.84,660.40 L172.40,663.23 L169.95,666.07 L167.50,668.90 L165.05,671.73 L162.60,674.57 L160.14,677.40 L157.68,680.23 L155.22,683.07 L152.76,685.90 L150.29,688.73 L147.82,691.57 L145.34,694.40 L142.87,697.23 L140.38,700.07 L137.90,702.90 L135.41,705.73 L132.92,708.57 L130.42,711.40 L127.92,714.23 L125.41,717.07 L122.91,719.90 L120.39,722.73 L117.88,725.57 L115.36,728.40" fill="none" stroke="#fff" stroke-width="3.4"/>
<path d="M124.86,388.40 L127.38,391.23 L129.89,394.07 L132.41,396.90 L134.91,399.73 L137.42,402.57 L139.92,405.40 L142.42,408.23 L144.91,411.07 L147.40,413.90 L149.88,416.73 L152.36,419.57 L154.84,422.40 L157.32,425.23 L159.79,428.07 L162.25,430.90 L164.71,433.73 L167.17,436.57 L169.62,439.40 L172.07,442.23 L174.51,445.07 L176.95,447.90 L179.38,450.73 L181.81,453.57 L184.23,456.40 L186.64,459.23 L189.04,462.07 L191.44,464.90 L193.83,467.73 L196.21,470.57 L198.57,473.40 L200.93,476.23 L203.28,479.07 L205.61,481.90 L207.93,484.73 L210.25,487.57 L212.55,490.40 L214.84,493.23 L217.11,496.07 L219.38,498.90 L221.64,501.73 L223.90,504.57 L226.14,507.40 L228.39,510.23 L230.62,513.07 L232.86,515.90 L235.10,518.73 L237.34,521.57 L239.58,524.40 L241.82,527.23 L244.07,530.07 L246.32,532.90 L248.58,535.73 L250.84,538.57 L253.12,541.40 L255.39,544.23 L257.66,547.07 L259.90,549.90 L262.01,552.73 L263.68,555.57 L264.60,558.40 L265.52,561.23 L267.19,564.07 L269.30,566.90 L271.54,569.73 L273.81,572.57 L276.08,575.40 L278.36,578.23 L280.62,581.07 L282.88,583.90 L285.13,586.73 L287.38,589.57 L289.62,592.40 L291.86,595.23 L294.10,598.07 L296.34,600.90 L298.58,603.73 L300.81,606.57 L303.06,609.40 L305.30,612.23 L307.56,615.07 L309.82,617.90 L312.09,620.73 L314.36,623.57 L316.65,626.40 L318.95,629.23 L321.27,632.07 L323.59,634.90 L325.92,637.73 L328.27,640.57 L330.63,643.40 L332.99,646.23 L335.37,649.07 L337.76,651.90 L340.16,654.73 L342.56,657.57 L344.97,660.40 L347.39,663.23 L349.82,666.07 L352.25,668.90 L354.69,671.73 L357.13,674.57 L359.58,677.40 L362.03,680.23 L364.49,683.07 L366.95,685.90 L369.41,688.73 L371.88,691.57 L374.36,694.40 L376.84,697.23 L379.32,700.07 L381.80,702.90 L384.29,705.73 L386.78,708.57 L389.28,711.40 L391.78,714.23 L394.29,717.07 L396.79,719.90 L399.31,722.73 L401.82,725.57 L404.34,728.40" fill="none" stroke="#fff" stroke-width="3.4"/>
<path d="M404.34,388.40 L401.82,391.23 L399.31,394.07 L396.79,396.90 L394.29,399.73 L391.78,402.57 L389.28,405.40 L386.78,408.23 L384.29,411.07 L381.80,413.90 L379.32,416.73 L376.84,419.57 L374.36,422.40 L371.88,425.23 L369.41,428.07 L366.95,430.90 L364.49,433.73 L362.03,436.57 L359.58,439.40 L357.13,442.23 L354.69,445.07 L352.25,447.90 L349.82,450.73 L347.39,453.57 L344.97,456.40 L342.56,459.23 L340.16,462.07 L337.76,464.90 L335.37,467.73 L332.99,470.57 L330.63,473.40 L328.27,476.23 L325.92,479.07 L323.59,481.90 L321.27,484.73 L318.95,487.57 L316.65,490.40 L314.36,493.23 L312.09,496.07 L309.82,498.90 L307.56,501.73 L305.30,504.57 L303.06,507.40 L300.81,510.23 L298.58,513.07 L296.34,515.90 L294.10,518.73 L291.86,521.57 L289.62,524.40 L287.38,527.23 L285.13,530.07 L282.88,532.90 L280.62,535.73 L278.36,538.57 L276.08,541.40 L273.81,544.23 L271.54,547.07 L269.30,549.90 L267.19,552.73 L265.52,555.57 L264.60,558.40 L263.68,561.23 L262.01,564.07 L259.90,566.90 L257.66,569.73 L255.39,572.57 L253.12,575.40 L250.84,578.23 L248.58,581.07 L246.32,583.90 L244.07,586.73 L241.82,589.57 L239.58,592.40 L237.34,595.23 L235.10,598.07 L232.86,600.90 L230.62,603.73 L228.39,606.57 L226.14,609.40 L223.90,612.23 L221.64,615.07 L219.38,617.90 L217.11,620.73 L214.84,623.57 L212.55,626.40 L210.25,629.23 L207.93,632.07 L205.61,634.90 L203.28,637.73 L200.93,640.57 L198.57,643.40 L196.21,646.23 L193.83,649.07 L191.44,651.90 L189.04,654.73 L186.64,657.57 L184.23,660.40 L181.81,663.23 L179.38,666.07 L176.95,668.90 L174.51,671.73 L172.07,674.57 L169.62,677.40 L167.17,680.23 L164.71,683.07 L162.25,685.90 L159.79,688.73 L157.32,691.57 L154.84,694.40 L152.36,697.23 L149.88,700.07 L147.40,702.90 L144.91,705.73 L142.42,708.57 L139.92,711.40 L137.42,714.23 L134.91,717.07 L132.41,719.90 L129.89,722.73 L127.38,725.57 L124.86,728.40" fill="none" stroke="#fff" stroke-width="3.4"/>
</g>

</g></g>
<rect x="109.2" y="411.0" width="311.1" height="293.0" fill="none" stroke="#262626" stroke-width="1.6"/>
<line x1="109.2" y1="440.2" x2="113.2" y2="440.2" stroke="#262626" stroke-width="1.2"/>
<line x1="416.3" y1="440.2" x2="420.3" y2="440.2" stroke="#262626" stroke-width="1.2"/>
<line x1="109.2" y1="674.8" x2="113.2" y2="674.8" stroke="#262626" stroke-width="1.2"/>
<line x1="416.3" y1="674.8" x2="420.3" y2="674.8" stroke="#262626" stroke-width="1.2"/>
<line x1="264.6" y1="411.0" x2="264.6" y2="415.0" stroke="#262626" stroke-width="1.2"/>
<line x1="264.6" y1="700.0" x2="264.6" y2="704.0" stroke="#262626" stroke-width="1.2"/>
<text x="99.3" y="453.8" text-anchor="end" style="font-family:&quot;Liberation Serif&quot;,serif;font-size:34.5px" fill="#111" >0.8</text>
<text x="99.3" y="687.8" text-anchor="end" style="font-family:&quot;Liberation Serif&quot;,serif;font-size:34.5px" fill="#111" textLength="51.5" lengthAdjust="spacingAndGlyphs" >-0.8</text>
<text transform="translate(55.5,556.8) rotate(-90)" text-anchor="middle" textLength="157" lengthAdjust="spacingAndGlyphs" style="font-family:&quot;Liberation Sans&quot;,sans-serif;font-size:24px" fill="#2b2b2b">Energy (meV)</text>
<text x="265.5" y="741.0" text-anchor="middle" style="font-family:&quot;Liberation Serif&quot;,serif;font-size:33.0px" fill="#111" >Y</text>
<line x1="253.7" y1="714.2" x2="278" y2="714.2" stroke="#111" stroke-width="2.2"/>
<defs><linearGradient id="parg" x1="0" y1="1" x2="0" y2="0"><stop offset="0.0000" stop-color="rgb(62,38,168)"/><stop offset="0.0625" stop-color="rgb(69,58,211)"/><stop offset="0.1250" stop-color="rgb(71,85,241)"/><stop offset="0.1875" stop-color="rgb(65,114,254)"/><stop offset="0.2500" stop-color="rgb(46,135,247)"/><stop offset="0.3125" stop-color="rgb(40,156,235)"/><stop offset="0.3750" stop-color="rgb(24,174,219)"/><stop offset="0.4375" stop-color="rgb(8,184,200)"/><stop offset="0.5000" stop-color="rgb(22,186,190)"/><stop offset="0.5625" stop-color="rgb(48,190,158)"/><stop offset="0.6250" stop-color="rgb(105,194,110)"/><stop offset="0.6875" stop-color="rgb(165,192,70)"/><stop offset="0.7500" stop-color="rgb(215,182,52)"/><stop offset="0.8125" stop-color="rgb(252,186,58)"/><stop offset="0.8750" stop-color="rgb(250,207,44)"/><stop offset="0.9375" stop-color="rgb(245,236,28)"/><stop offset="1.0000" stop-color="rgb(249,251,14)"/></linearGradient></defs>
<rect x="431.9" y="411.6" width="17.9" height="292.1" fill="url(#parg)" stroke="#9a9a9a" stroke-width="0.8"/>
<line x1="446.5" y1="703.7" x2="449.8" y2="703.7" stroke="#555" stroke-width="1"/>
<text x="456.5" y="710.7" text-anchor="start" style="font-family:&quot;Liberation Sans&quot;,sans-serif;font-size:19.5px" fill="#2b2b2b" >0</text>
<line x1="446.5" y1="638.8" x2="449.8" y2="638.8" stroke="#555" stroke-width="1"/>
<text x="456.5" y="645.8" text-anchor="start" style="font-family:&quot;Liberation Sans&quot;,sans-serif;font-size:19.5px" fill="#2b2b2b" >1</text>
<line x1="446.5" y1="573.9" x2="449.8" y2="573.9" stroke="#555" stroke-width="1"/>
<text x="456.5" y="580.9" text-anchor="start" style="font-family:&quot;Liberation Sans&quot;,sans-serif;font-size:19.5px" fill="#2b2b2b" >2</text>
<line x1="446.5" y1="509.0" x2="449.8" y2="509.0" stroke="#555" stroke-width="1"/>
<text x="456.5" y="516.0" text-anchor="start" style="font-family:&quot;Liberation Sans&quot;,sans-serif;font-size:19.5px" fill="#2b2b2b" >3</text>
<line x1="446.5" y1="444.1" x2="449.8" y2="444.1" stroke="#555" stroke-width="1"/>
<text x="456.5" y="451.1" text-anchor="start" style="font-family:&quot;Liberation Sans&quot;,sans-serif;font-size:19.5px" fill="#2b2b2b" >4</text>
<defs><clipPath id="cd"><rect x="632.6" y="410.0" width="301.1" height="301.5"/></clipPath>
<filter id="cmapJ" filterUnits="userSpaceOnUse" x="620" y="400" width="330" height="320" color-interpolation-filters="sRGB"><feComponentTransfer><feFuncR type="table" tableValues="0.0000 0.0000 0.0000 0.0000 0.4980 1.0000 1.0000 1.0000 0.4980"/><feFuncG type="table" tableValues="0.0000 0.0000 0.4980 1.0000 1.0000 1.0000 0.4980 0.0000 0.0000"/><feFuncB type="table" tableValues="0.4980 1.0000 1.0000 1.0000 0.4980 0.0000 0.0000 0.0000 0.0000"/></feComponentTransfer></filter>
<filter id="jb1" filterUnits="userSpaceOnUse" x="-100" y="-100" width="300" height="300" color-interpolation-filters="sRGB"><feGaussianBlur stdDeviation="1.3"/></filter>
<filter id="jb2" filterUnits="userSpaceOnUse" x="-100" y="-100" width="300" height="300" color-interpolation-filters="sRGB"><feGaussianBlur stdDeviation="2.6"/></filter>
<filter id="jb3" filterUnits="userSpaceOnUse" x="-100" y="-100" width="300" height="300" color-interpolation-filters="sRGB"><feGaussianBlur stdDeviation="4.0"/></filter>
<filter id="jb4" filterUnits="userSpaceOnUse" x="-100" y="-100" width="300" height="300" color-interpolation-filters="sRGB"><feGaussianBlur stdDeviation="10.0"/></filter>
<filter id="jb5" filterUnits="userSpaceOnUse" x="-100" y="-100" width="300" height="300" color-interpolation-filters="sRGB"><feGaussianBlur stdDeviation="2.0"/></filter>
<g id="corner">
<g style="mix-blend-mode:lighten" filter="url(#jb4)"><circle cx="14" cy="14" r="52" fill="rgb(27,27,27)"/></g><g style="mix-blend-mode:lighten" filter="url(#jb3)"><path d="M58,0 A58,58 0 0 1 0,58" fill="none" stroke="rgb(29,29,29)" stroke-width="9"/><path d="M82,0 A82,82 0 0 1 0,82" fill="none" stroke="rgb(22,22,22)" stroke-width="8"/></g><g style="mix-blend-mode:lighten" filter="url(#jb3)"><ellipse cx="46.6" cy="26" rx="5" ry="11" fill="rgb(43,43,43)"/><ellipse cx="26.3" cy="46.4" rx="11" ry="5" fill="rgb(43,43,43)"/><ellipse cx="67" cy="22" rx="4" ry="9" fill="rgb(38,38,38)"/><ellipse cx="10" cy="52" rx="9" ry="5" fill="rgb(38,38,38)"/></g><g style="mix-blend-mode:lighten" filter="url(#jb2)"><path d="M-5,-5 L40,-5 L40,4 Q30,9 18,9 L12,12 L9,18 Q9,30 4,40 L-5,40 Z" fill="rgb(87,87,87)"/><circle cx="9" cy="9" r="12" fill="rgb(92,92,92)"/><circle cx="25.5" cy="24" r="8.5" fill="rgb(94,94,94)"/></g><g style="mix-blend-mode:lighten" filter="url(#jb2)"><circle cx="25.5" cy="24" r="4.5" fill="rgb(128,128,128)"/></g><g style="mix-blend-mode:lighten" filter="url(#jb5)"><path d="M1.5,1 L15.5,1.5 L16.5,10 L7.5,17 L1.5,14.5 Z" fill="rgb(255,255,255)"/></g>
</g>
</defs>
<text x="513.6" y="415.5" text-anchor="start" style="font-family:&quot;Liberation Sans&quot;,sans-serif;font-size:35.5px" fill="#000" stroke="#000" stroke-width="0.45">(</text><text x="527.5" y="415.5" text-anchor="start" style="font-family:&quot;Liberation Sans&quot;,sans-serif;font-size:35.5px" fill="#000" stroke="#000" stroke-width="0.45">d</text><text x="563.0" y="415.5" text-anchor="end" style="font-family:&quot;Liberation Sans&quot;,sans-serif;font-size:35.5px" fill="#000" stroke="#000" stroke-width="0.45">)</text>
<g clip-path="url(#cd)"><g filter="url(#cmapJ)">
<rect x="620" y="400" width="330" height="320" fill="rgb(3,3,3)"/>
<use href="#corner" transform="translate(632.6,410.0)"/>
<use href="#corner" transform="translate(933.7,410.0) scale(-1,1)"/>
<use href="#corner" transform="translate(632.6,711.5) scale(1,-1)"/>
<use href="#corner" transform="translate(933.7,711.5) scale(-1,-1)"/>
</g></g>
<line x1="632.6" y1="410.0" x2="632.6" y2="711.5" stroke="#333" stroke-width="1.2"/>
<rect x="666.2" y="464.8" width="236.2" height="192.1" fill="#ffffff"/>
<rect x="717.6" y="467.7" width="183.7" height="187.8" fill="none" stroke="#262626" stroke-width="1.2"/>
<line x1="717.6" y1="487.9" x2="720.6" y2="487.9" stroke="#262626" stroke-width="1"/>
<line x1="898.3" y1="487.9" x2="901.3" y2="487.9" stroke="#262626" stroke-width="1"/>
<line x1="717.6" y1="562.1" x2="720.6" y2="562.1" stroke="#262626" stroke-width="1"/>
<line x1="898.3" y1="562.1" x2="901.3" y2="562.1" stroke="#262626" stroke-width="1"/>
<line x1="717.6" y1="637.2" x2="720.6" y2="637.2" stroke="#262626" stroke-width="1"/>
<line x1="898.3" y1="637.2" x2="901.3" y2="637.2" stroke="#262626" stroke-width="1"/>
<text x="711.5" y="495.5" text-anchor="end" style="font-family:&quot;Liberation Sans&quot;,sans-serif;font-size:19.5px" fill="#2b2b2b" >0.04</text>
<text x="712.5" y="645.5" text-anchor="end" style="font-family:&quot;Liberation Sans&quot;,sans-serif;font-size:19.5px" fill="#2b2b2b" >-0.04</text>
<text transform="translate(701.7,559) rotate(-90)" text-anchor="middle" textLength="71" lengthAdjust="spacingAndGlyphs" style="font-family:&quot;Liberation Sans&quot;,sans-serif;font-size:21px" fill="#1a1a1a">Energy</text>
<circle cx="726.1" cy="639.2" r="1.6" fill="#ff0000"/>
<circle cx="734.8" cy="639.2" r="1.6" fill="#ff0000"/>
<circle cx="743.5" cy="634.1" r="1.6" fill="#ff0000"/>
<circle cx="752.3" cy="634.1" r="1.6" fill="#ff0000"/>
<circle cx="761.0" cy="634.1" r="1.6" fill="#ff0000"/>
<circle cx="769.7" cy="634.1" r="1.6" fill="#ff0000"/>
<circle cx="778.4" cy="562.1" r="1.6" fill="#ff0000"/>
<circle cx="787.1" cy="562.1" r="1.6" fill="#ff0000"/>
<circle cx="795.9" cy="562.1" r="1.6" fill="#ff0000"/>
<circle cx="804.6" cy="562.1" r="1.6" fill="#ff0000"/>
<circle cx="813.3" cy="562.1" r="1.6" fill="#ff0000"/>
<circle cx="822.0" cy="562.1" r="1.6" fill="#ff0000"/>
<circle cx="830.7" cy="562.1" r="1.6" fill="#ff0000"/>
<circle cx="839.5" cy="562.1" r="1.6" fill="#ff0000"/>
<circle cx="848.2" cy="490.7" r="1.6" fill="#ff0000"/>
<circle cx="856.9" cy="490.7" r="1.6" fill="#ff0000"/>
<circle cx="865.6" cy="490.7" r="1.6" fill="#ff0000"/>
<circle cx="874.3" cy="490.7" r="1.6" fill="#ff0000"/>
<circle cx="883.1" cy="486.0" r="1.6" fill="#ff0000"/>
<circle cx="891.8" cy="486.0" r="1.6" fill="#ff0000"/>
<defs><linearGradient id="jetg" x1="0" y1="1" x2="0" y2="0"><stop offset="0.0000" stop-color="rgb(0,0,127)"/><stop offset="0.1250" stop-color="rgb(0,0,255)"/><stop offset="0.2500" stop-color="rgb(0,127,255)"/><stop offset="0.3750" stop-color="rgb(0,255,255)"/><stop offset="0.5000" stop-color="rgb(127,255,127)"/><stop offset="0.6250" stop-color="rgb(255,255,0)"/><stop offset="0.7500" stop-color="rgb(255,127,0)"/><stop offset="0.8750" stop-color="rgb(255,0,0)"/><stop offset="1.0000" stop-color="rgb(127,0,0)"/></linearGradient></defs>
<rect x="955.3" y="410" width="18.3" height="301" fill="url(#jetg)" stroke="#555" stroke-width="0.8"/>
<text x="983.7" y="471.5" text-anchor="start" style="font-family:&quot;Liberation Serif&quot;,serif;font-size:33.0px" fill="#111" >7</text>
<text x="984.8" y="684.0" text-anchor="start" style="font-family:&quot;Liberation Serif&quot;,serif;font-size:33.0px" fill="#111" >1</text>
<text x="622.5" y="431.5" text-anchor="end" style="font-family:&quot;Liberation Serif&quot;,serif;font-size:33.0px" fill="#111" >60</text>
<text x="622.6" y="712.5" text-anchor="end" style="font-family:&quot;Liberation Serif&quot;,serif;font-size:33.0px" fill="#111" >1</text>
<text x="636.2" y="746.0" text-anchor="middle" style="font-family:&quot;Liberation Serif&quot;,serif;font-size:33.0px" fill="#111" >1</text>
<text x="926.8" y="745.5" text-anchor="middle" style="font-family:&quot;Liberation Serif&quot;,serif;font-size:33.0px" fill="#111" >60</text>
<line x1="618.3" y1="554" x2="618.3" y2="567" stroke="#222" stroke-width="1.6"/>
</svg></body></html>
